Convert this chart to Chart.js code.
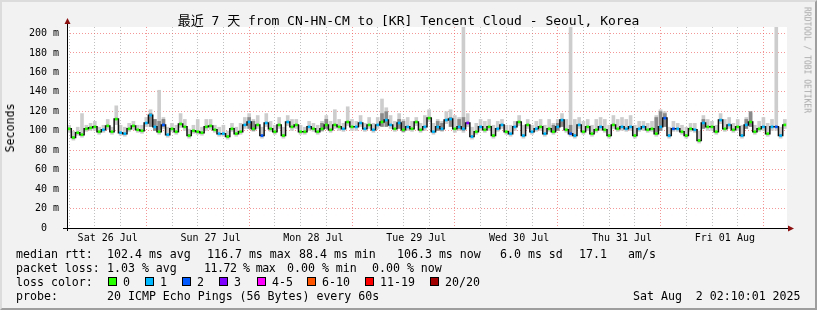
<!DOCTYPE html>
<html>
<head>
<meta charset="utf-8">
<script src="https://cdn.jsdelivr.net/npm/chart.js@4"></script>
<style>
  html, body { margin: 0; padding: 0; background: #f2f2f2; }
  #wrap { position: relative; width: 817px; height: 310px; overflow: hidden;
          font-family: 'DejaVu Sans Mono', monospace; color: #000; }
  #cw { position: absolute; left: 0; top: 0; width: 817px; height: 310px; }
  #frame { position: absolute; left: 0; top: 0; width: 817px; height: 310px; box-sizing: border-box;
           border-top: 2px solid #dcdcdc; border-left: 2px solid #dcdcdc;
           border-right: 2px solid #9e9e9e; border-bottom: 2px solid #9e9e9e; pointer-events: none; }
  .t { position: absolute; white-space: pre; font-size: 11.6px; line-height: 14px; }
  .box { position: absolute; width: 9px; height: 9px; box-sizing: border-box; border: 1px solid #000; }
  #title { position: absolute; left: 0; top: 13px; width: 817px; text-align: center; white-space: pre;
           font-size: 13px; line-height: 16px; font-family: 'DejaVu Sans Mono', 'Noto Sans CJK SC', monospace; }
  #ylab { position: absolute; left: 10px; top: 128px; font-size: 11.6px; white-space: pre;
          transform: translate(-50%, -50%) rotate(-90deg); }
  #rrd { position: absolute; left: 807px; top: 60px; font-size: 8px; color: #a8a8a8; white-space: pre;
         transform: translate(-50%, -50%) rotate(90deg); }
</style>
</head>
<body>
<div id="wrap">
  <div id="cw"><canvas id="chart"></canvas></div>
  <div id="title">最近 7 天 from CN-HN-CM to [KR] Tencent Cloud - Seoul, Korea</div>
  <div id="ylab">Seconds</div>
  <div id="rrd">RRDTOOL / TOBI OETIKER</div>

  <div class="t" style="left:16px;top:247px">median rtt:</div>
  <div class="t" style="left:107px;top:247px">102.4 ms avg</div>
  <div class="t" style="left:207px;top:247px">116.7 ms max</div>
  <div class="t" style="left:299px;top:247px">88.4 ms min</div>
  <div class="t" style="left:397px;top:247px">106.3 ms now</div>
  <div class="t" style="left:500px;top:247px">6.0 ms sd</div>
  <div class="t" style="left:579px;top:247px">17.1</div>
  <div class="t" style="left:628px;top:247px">am/s</div>

  <div class="t" style="left:16px;top:261px">packet loss:</div>
  <div class="t" style="left:107px;top:261px">1.03 % avg</div>
  <div class="t" style="left:204px;top:261px;letter-spacing:-0.5px">11.72 % max</div>
  <div class="t" style="left:287px;top:261px">0.00 % min</div>
  <div class="t" style="left:372px;top:261px">0.00 % now</div>

  <div class="t" style="left:16px;top:275px">loss color:</div>
  <div id="losskey"></div>

  <div class="t" style="left:16px;top:289px">probe:</div>
  <div class="t" style="left:107px;top:289px">20 ICMP Echo Pings (56 Bytes) every 60s</div>
  <div class="t" style="left:633px;top:289px">Sat Aug  2 02:10:01 2025</div>
  <div id="frame"></div>
</div>
<script>
// hours after Sat 26 Jul 00:00, one sample per hour
const startHour = 3;
const dayLabels = ['Sat 26 Jul', 'Sun 27 Jul', 'Mon 28 Jul', 'Tue 29 Jul', 'Wed 30 Jul', 'Thu 31 Jul', 'Fri 01 Aug'];
const xTickHours = [6, 12, 18, 24, 30, 36, 42, 48, 54, 60, 66, 72, 78, 84, 90, 96, 102, 108, 114, 120,
  126, 132, 138, 144, 150, 156, 162, 168];
const yTickValues = [0, 10, 20, 30, 40, 50, 60, 70, 80, 90, 100, 110, 120, 130, 140, 150, 160, 170, 180, 190, 200];

const median = [
  102, 93, 98, 96, 102, 103, 104, 99, 101, 105, 99, 112, 98, 97, 102, 105, 101, 100, 108, 116, 104, 99, 106, 96,
  102, 99, 107, 104, 95, 100, 99, 98, 104, 105,
  101, 97, 97, 94, 102, 97, 99, 106, 109, 102, 106, 95, 108, 102, 99, 106, 95, 109, 104, 106, 99, 99, 104, 102,
  99, 102, 106, 101, 106, 104, 102, 109, 104,
  104, 108, 102, 106, 101, 106, 109, 111, 106, 102, 108, 101, 104, 102, 109, 101, 104, 113, 99, 104, 102, 111, 112, 102,
  104, 102, 108, 94, 99, 104, 101, 104, 95, 102,
  106, 99, 97, 104, 109, 95, 106, 99, 102, 104, 97, 102, 99, 104, 111, 101, 97, 95, 106, 99, 104, 97, 101, 104,
  101, 95, 106, 102, 104, 102, 104, 95, 102,
  104, 101, 102, 97, 104, 113, 95, 102, 102, 99, 95, 102, 101, 90, 108, 104, 104, 99, 111, 102, 106, 101, 104, 95,
  106, 109, 99, 102, 104, 97, 104, 104, 95, 106
];
const smokeLo = [
  98, 90, 95, 93, 99, 100, 100, 96, 98, 101, 96, 106, 95, 94, 99, 101, 98, 97, 104, 110, 100, 96, 102, 93,
  99, 96, 103, 100, 92, 97, 96, 95, 100, 101,
  98, 94, 94, 91, 99, 94, 96, 102, 105, 99, 102, 92, 104, 99, 96, 102, 92, 105, 100, 102, 96, 96, 100, 99,
  96, 99, 102, 98, 102, 100, 99, 105, 100,
  100, 104, 99, 102, 98, 102, 105, 107, 102, 99, 104, 98, 100, 99, 105, 98, 100, 109, 96, 100, 99, 107, 108, 98,
  100, 98, 104, 91, 96, 100, 98, 100, 92, 99,
  102, 96, 94, 100, 105, 92, 102, 96, 99, 100, 94, 99, 96, 100, 107, 98, 94, 92, 102, 96, 100, 94, 98, 100,
  98, 92, 102, 99, 100, 99, 100, 92, 99,
  100, 98, 99, 94, 100, 108, 92, 99, 99, 96, 92, 99, 98, 87, 104, 100, 100, 96, 107, 99, 102, 98, 100, 92,
  102, 105, 96, 99, 100, 94, 100, 100, 92, 102
];
const smokeHi = [
  106, 100, 104, 118, 106, 108, 110, 104, 106, 112, 104, 126, 106, 104, 108, 110, 106, 106, 114, 122, 112, 142, 114, 104,
  108, 106, 118, 112, 102, 106, 112, 104, 112, 112,
  106, 104, 106, 100, 108, 104, 108, 114, 118, 112, 116, 104, 118, 110, 106, 114, 104, 116, 112, 112, 106, 104, 110, 108,
  106, 110, 116, 110, 122, 112, 108, 125, 112,
  110, 116, 108, 114, 108, 114, 133, 124, 116, 110, 118, 112, 114, 110, 114, 108, 116, 122, 108, 112, 110, 120, 122, 116,
  114, 210, 118, 104, 108, 112, 110, 112, 106, 110,
  112, 106, 106, 110, 116, 106, 112, 106, 110, 112, 106, 112, 108, 112, 118, 112, 210, 112, 114, 110, 112, 106, 112, 114,
  112, 106, 116, 112, 114, 112, 116, 106, 110,
  110, 108, 110, 116, 122, 120, 104, 110, 108, 106, 104, 108, 108, 100, 116, 112, 110, 106, 118, 112, 114, 108, 112, 106,
  114, 118, 106, 110, 114, 108, 112, 210, 104, 112
];
// [hour, lo, hi] of the darker smoke bands
const darkSmoke = [
  [22, 104, 118], [23, 100, 112], [24, 100, 110], [25, 104, 112],
  [45, 102, 114], [46, 100, 110], [62, 100, 108], [63, 102, 112],
  [76, 104, 118], [77, 104, 120], [80, 102, 112], [81, 99, 110], [89, 100, 110], [90, 100, 108],
  [92, 104, 114], [94, 102, 112], [95, 100, 114],
  [116, 98, 106], [117, 100, 108], [118, 104, 112], [120, 97, 106],
  [140, 98, 114], [141, 100, 120], [142, 104, 118], [151, 102, 112], [161, 102, 112], [162, 104, 120]
];
// lost pings out of 20, per sample
const loss = [
  0, 0, 0, 0, 0, 0, 0, 0, 1, 0, 0, 0, 1, 1, 0, 0, 0, 0, 1, 1, 1, 0, 2, 1, 0, 0, 0, 0, 0, 0, 0, 0, 0, 0,
  0, 1, 1, 0, 0, 0, 0, 1, 1, 0, 0, 2, 1, 0, 0, 0, 0, 1, 0, 0, 0, 0, 1, 0, 0, 0, 0, 0, 0, 0, 1, 0, 0,
  1, 1, 1, 0, 1, 1, 0, 1, 1, 0, 1, 0, 1, 0, 0, 0, 1, 0, 1, 1, 1, 1, 1, 0, 1, 1, 3, 1, 0, 1, 0, 0, 0, 1,
  1, 0, 1, 1, 0, 1, 0, 1, 1, 0, 1, 0, 0, 1, 1, 0, 2, 1, 1, 0, 0, 0, 0, 1, 0, 0, 0, 0, 1, 1, 1, 0, 1,
  1, 0, 0, 0, 1, 2, 1, 2, 1, 0, 0, 0, 1, 0, 1, 0, 0, 0, 1, 0, 1, 0, 0, 1, 1, 0, 0, 0, 1, 0, 1, 2, 1, 0
];
const lossNames = ['0', '1', '2', '3', '4-5', '6-10', '11-19', '20/20'];
const lossColors = ['#26ff00', '#00b8ff', '#0059ff', '#7e00ff', '#ff00ff', '#ff5500', '#ff0000', '#a00000'];
const lossKeyX = [108, 145, 182, 219, 257, 307, 365, 430];

// loss colour key
const key = document.getElementById('losskey');
lossNames.forEach((n, i) => {
  const b = document.createElement('div');
  b.className = 'box';
  b.style.left = lossKeyX[i] + 'px';
  b.style.top = '277px';
  b.style.background = lossColors[i];
  key.appendChild(b);
  const t = document.createElement('div');
  t.className = 't';
  t.style.left = (lossKeyX[i] + 15) + 'px';
  t.style.top = '275px';
  t.textContent = n;
  key.appendChild(t);
});

const mono = 'DejaVu Sans Mono';
const redGrid = 'rgba(235, 80, 80, 0.6)';
const greyGrid = 'rgba(140, 140, 140, 0.55)';

const plotBg = {
  id: 'plotBg',
  beforeDraw(chart) {
    const a = chart.chartArea, c = chart.ctx;
    c.save();
    c.fillStyle = '#fff';
    c.fillRect(a.left, a.top, a.right - a.left, a.bottom - a.top);
    c.restore();
  }
};

const axes = {
  id: 'axes',
  afterDatasetsDraw(chart) {
    const a = chart.chartArea, c = chart.ctx;
    c.save();
    c.strokeStyle = '#000';
    c.lineWidth = 1;
    c.beginPath();
    c.moveTo(a.left + 0.5, a.bottom + 3);
    c.lineTo(a.left + 0.5, a.top - 5);
    c.moveTo(a.left - 4, a.bottom + 0.5);
    c.lineTo(a.right + 3, a.bottom + 0.5);
    c.stroke();
    c.fillStyle = '#8b1010';
    c.beginPath();
    c.moveTo(a.left - 2.5, a.top - 3);
    c.lineTo(a.left + 3.5, a.top - 3);
    c.lineTo(a.left + 0.5, a.top - 9);
    c.closePath();
    c.fill();
    c.beginPath();
    c.moveTo(a.right + 1, a.bottom - 2.5);
    c.lineTo(a.right + 1, a.bottom + 3.5);
    c.lineTo(a.right + 7, a.bottom + 0.5);
    c.closePath();
    c.fill();
    c.restore();
  }
};

const ctx = document.getElementById('chart').getContext('2d');
new Chart(ctx, {
  type: 'bar',
  data: {
    datasets: [{
      type: 'line',
      label: 'median',
      data: median.map((v, i) => ({ x: startHour + i, y: v })),
      borderColor: '#111',
      borderWidth: 1.5,
      stepped: 'middle',
      pointStyle: 'rect',
      pointRadius: 1.9,
      pointBorderWidth: 0,
      pointBackgroundColor: loss.map(l => lossColors[l]),
      order: 1
    }, {
      label: 'dark smoke',
      data: darkSmoke.map(d => ({ x: d[0], y: [d[1], d[2]] })),
      backgroundColor: '#8a8a8a',
      barPercentage: 0.85,
      categoryPercentage: 1,
      grouped: false,
      order: 2
    }, {
      label: 'smoke',
      data: median.map((v, i) => ({ x: startHour + i, y: [smokeLo[i], smokeHi[i]] })),
      backgroundColor: '#cdcdcd',
      barPercentage: 0.85,
      categoryPercentage: 1,
      grouped: false,
      order: 3
    }]
  },
  options: {
    responsive: true,
    maintainAspectRatio: false,
    animation: false,
    devicePixelRatio: 1,
    events: [],
    layout: { padding: { left: 0, right: 30, top: 27, bottom: 62 } },
    plugins: { legend: { display: false }, tooltip: { enabled: false } },
    scales: {
      x: {
        type: 'linear',
        min: 2.5,
        max: 170.5,
        offset: false,
        afterBuildTicks: s => { s.ticks = xTickHours.map(v => ({ value: v })); },
        afterFit: s => { s.height = 20; },
        border: { display: false, dash: [1, 2] },
        grid: {
          drawTicks: false,
          color: c => (c.tick && c.tick.value % 24 === 0) ? redGrid : greyGrid
        },
        ticks: {
          autoSkip: false,
          maxRotation: 0,
          padding: 4,
          color: '#000',
          font: { family: mono, size: 10 },
          callback: v => (Math.round(v) % 24 === 12) ? dayLabels[(Math.round(v) - 12) / 24] : ''
        }
      },
      y: {
        min: 0,
        max: 206.7,
        afterBuildTicks: s => { s.ticks = yTickValues.map(v => ({ value: v })); },
        afterFit: s => { s.width = 67; },
        border: { display: false, dash: [1, 2] },
        grid: {
          drawTicks: false,
          color: c => (c.tick && c.tick.value % 20 === 0) ? redGrid : greyGrid
        },
        ticks: {
          padding: 8,
          color: '#000',
          font: { family: mono, size: 10 },
          callback: v => v % 20 !== 0 ? '' : (v === 0 ? '0  ' : v + ' m')
        }
      }
    }
  },
  plugins: [plotBg, axes]
});
</script>
</body>
</html>
